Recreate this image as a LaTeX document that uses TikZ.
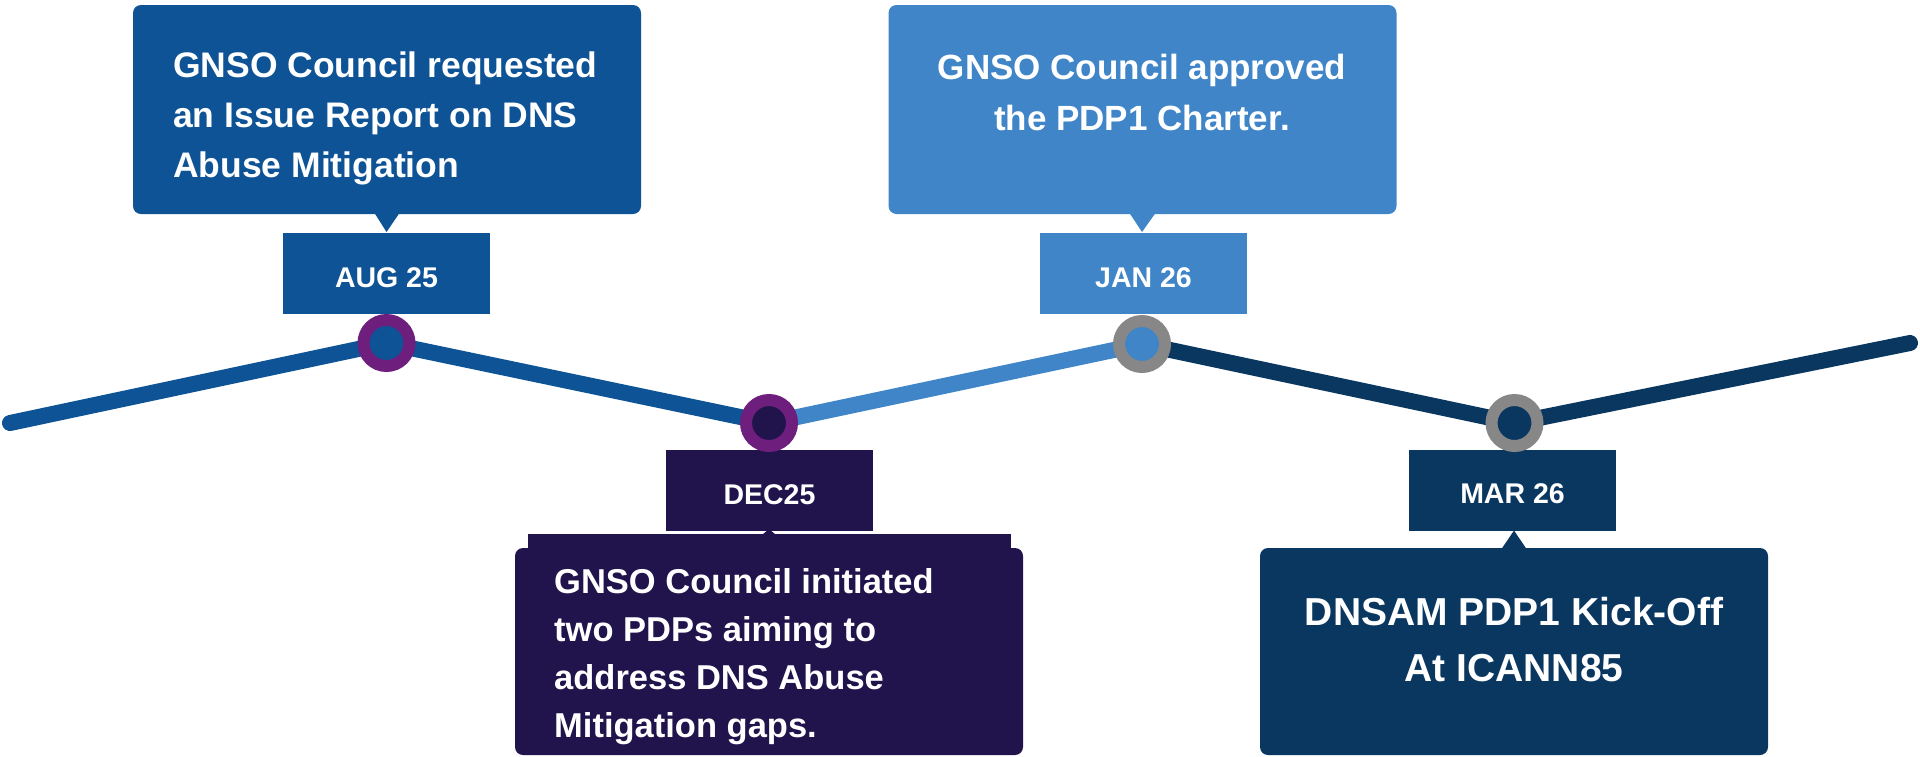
\documentclass[tikz,border=0pt]{standalone}
\usepackage{fontspec}
\setmainfont{Liberation Sans}
\usetikzlibrary{calc}
\definecolor{blueA}{HTML}{0E5395}
\definecolor{blueL}{HTML}{3F85C7}
\definecolor{indigo}{HTML}{21134C}
\definecolor{navy}{HTML}{0A3760}
\definecolor{ringpurple}{HTML}{6E1F7D}
\definecolor{ringgray}{HTML}{878787}
\begin{document}
\begin{tikzpicture}[x=1pt,y=-1pt,
  panel/.style={draw=none, inner sep=0pt, outer sep=0pt, rounded corners=8pt,
                minimum width=508pt, minimum height=209pt},
  datebox/.style={draw=none, inner sep=0pt, outer sep=0pt,
                minimum width=207pt, minimum height=81pt},
  datetext/.style={text=white, font=\fontsize{28.5}{34}\selectfont\bfseries,
                anchor=base, inner sep=0pt},
  paneltext/.style={text=white, inner sep=0pt},
  ring/.style={circle, inner sep=0pt, outer sep=0pt, minimum size=46pt, line width=12pt},
  track/.style={line width=16pt, line cap=round},
]
\useasboundingbox (0,0) rectangle (1920,756);

% ---- timeline points
\coordinate (L) at (10,423);
\coordinate (p1) at (386.5,343);
\coordinate (p2) at (769,423);
\coordinate (p3) at (1142,344);
\coordinate (p4) at (1514.5,423);
\coordinate (R) at (1910,343);

\draw[track, blueA] (L) -- (p1);
\draw[track, blueA] (p1) -- (p2);
\draw[track, blueL] (p2) -- (p3);
\draw[track, navy] (p3) -- (p4);
\draw[track, navy] (p4) -- (R);

% ---- AUG 25
\node[panel, fill=blueA] (b1) at (387,109.5) {};
\node[datebox, fill=blueA] (d1) at (386.5,273.5) {};
\fill[blueA] ($(b1.south)+(-12.5,-1)$) -- ($(b1.south)+(12.5,-1)$) -- ($(d1.north)+(0,-1)$) -- cycle;
\node[datetext] (t1) at (386.5,287) {AUG 25};
\node[paneltext, anchor=base west, font=\fontsize{35.5}{50}\selectfont\bfseries] (b1t) at (173,77)
  {\parbox[t]{460pt}{GNSO Council requested\\an Issue Report on DNS\\Abuse Mitigation}};

% ---- JAN 26
\node[panel, fill=blueL] (b2) at (1142.5,109.5) {};
\node[datebox, fill=blueL] (d2) at (1143.5,273.5) {};
\fill[blueL] ($(b2.south)+(-13,-1)$) -- ($(b2.south)+(13,-1)$) -- ($(d2.north)+(-1.5,-1)$) -- cycle;
\node[datetext] (t2) at (1143.5,287) {JAN 26};
\node[paneltext, anchor=base, font=\fontsize{35}{51}\selectfont\bfseries] (b2t) at (1142,79)
  {\parbox[t]{480pt}{\centering GNSO Council approved\\the PDP1 Charter.}};

% ---- DEC25
\node[datebox, fill=indigo] (d3) at (769.5,490) {};
\node[panel, fill=indigo, minimum height=207pt] (b3) at (769,651.5) {};
\fill[indigo] (528,534) rectangle (1011,550);
\fill[indigo] (762,535) -- (776,535) -- (769,529) -- cycle;
\node[datetext] (t3) at (769.5,504) {DEC25};
\node[paneltext, anchor=base west, font=\fontsize{34.5}{48}\selectfont\bfseries] (b3t) at (554,593)
  {\parbox[t]{460pt}{GNSO Council initiated\\two PDPs aiming to\\address DNS Abuse\\Mitigation gaps.}};

% ---- MAR 26
\node[datebox, fill=navy] (d4) at (1512.5,490) {};
\node[panel, fill=navy, minimum height=207pt] (b4) at (1514,651.5) {};
\fill[navy] ($(b4.north)+(-12.5,1)$) -- ($(b4.north)+(12.5,1)$) -- (d4.south -| b4.north) -- cycle;
\node[datetext] (t4) at (1512.5,503) {MAR 26};
\node[paneltext, anchor=base, font=\fontsize{39}{56}\selectfont\bfseries] (b4t) at (1514,625)
  {\parbox[t]{500pt}{\centering DNSAM PDP1 Kick-Off\\At ICANN85}};

% ---- rings on top
\node[ring, fill=blueA, draw=ringpurple] (c1) at (p1) {};
\node[ring, fill=indigo, draw=ringpurple] (c2) at (p2) {};
\node[ring, fill=blueL, draw=ringgray] (c3) at (p3) {};
\node[ring, fill=navy, draw=ringgray] (c4) at (p4) {};
\end{tikzpicture}
\end{document}
